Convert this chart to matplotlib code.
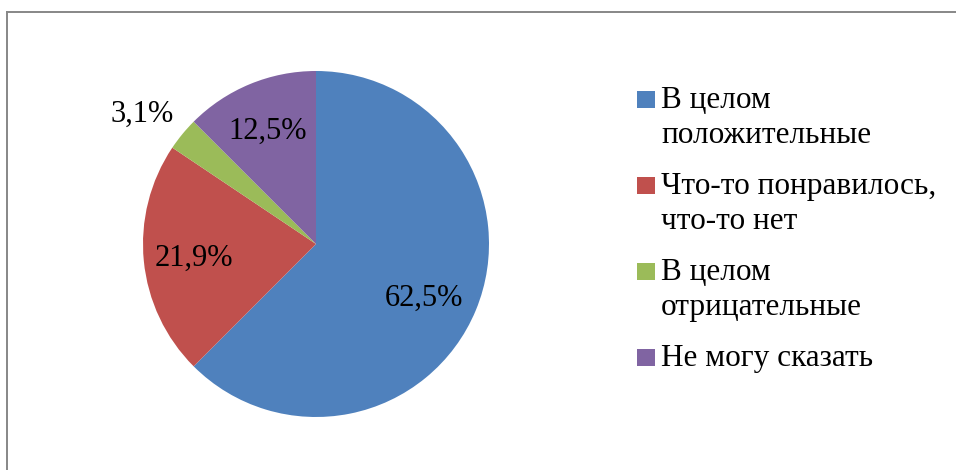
import matplotlib
matplotlib.use("Agg")
import matplotlib.pyplot as plt
from matplotlib.lines import Line2D
from matplotlib.patches import Rectangle
import numpy as np

# Data
categories = ["В целом\nположительные", "Что-то понравилось,\nчто-то нет",
              "В целом\nотрицательные", "Не могу сказать"]
values = [62.5, 21.9, 3.1, 12.5]
pct_labels = ["62,5%", "21,9%", "3,1%", "12,5%"]
colors = ["#4F81BD", "#C0504D", "#9BBB59", "#8064A2"]

W, H = 956, 470
DPI = 100
plt.rcParams['font.family'] = ['Liberation Serif', 'DejaVu Serif']

fig = plt.figure(figsize=(W / DPI, H / DPI), dpi=DPI)
fig.patch.set_facecolor("white")

def fx(px):
    return px / W

def fy(py):
    return 1 - py / H

# Frame (gray border, extends beyond right and bottom)
frame_color = "#878787"
fig.add_artist(Line2D([fx(7), 1.0], [fy(12), fy(12)], color=frame_color, lw=1.4,
                      transform=fig.transFigure))
fig.add_artist(Line2D([fx(7), fx(7)], [fy(12), 0.0], color=frame_color, lw=1.4,
                      transform=fig.transFigure))

# Pie axes
cx, cy, r = 316, 244, 173
ax = fig.add_axes([fx(cx - r), fy(cy + r), 2 * r / W, 2 * r / H])
wedges, _ = ax.pie(values, colors=colors, startangle=90, counterclock=False,
                   radius=1.0, wedgeprops=dict(linewidth=0))
ax.set_xlim(-1, 1)
ax.set_ylim(-1, 1)
ax.set_aspect("auto")
ax.axis("off")

# Percentage labels (radial distance and small angular nudge per label)
dists = [0.70, 0.71, 1.252, 0.71]
nudges = [-4.0, 1.0, 2.8, 0.5]
for w, lab, d, dn in zip(wedges, pct_labels, dists, nudges):
    ang = np.deg2rad((w.theta1 + w.theta2) / 2 + dn)
    ax.text(d * np.cos(ang), d * np.sin(ang), lab, ha="center", va="center",
            fontsize=22, color="black")

# Legend (manual)
line_step = 35
entry_gap = 51
baseline = 108
for cat, col in zip(categories, colors):
    lines = cat.split("\n")
    fig.add_artist(Rectangle((fx(637), fy(baseline)), 18 / W, 17 / H,
                             facecolor=col, edgecolor="none",
                             transform=fig.transFigure))
    for k, ln in enumerate(lines):
        fig.text(fx(661), fy(baseline + k * line_step), ln, ha="left",
                 va="baseline", fontsize=22.5, color="black")
    baseline += (len(lines) - 1) * line_step + entry_gap

fig.savefig("out.png", dpi=DPI, facecolor="white")
